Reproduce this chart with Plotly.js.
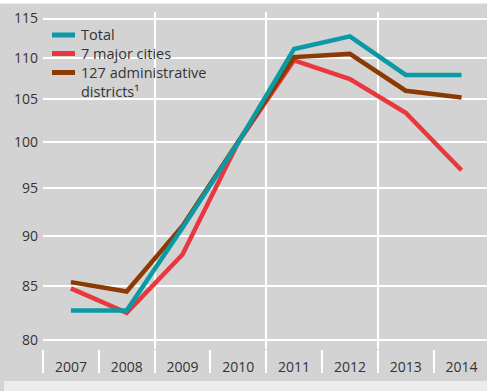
<!DOCTYPE html>
<html>
<head>
<meta charset="utf-8">
<script src="https://cdn.plot.ly/plotly-3.0.1.min.js"></script>
<style>html,body{margin:0;padding:0;background:#d3d3d3;}#chart{width:487px;height:391px;}</style>
</head>
<body>
<div id="chart"></div>
<script>
const years = [2007, 2008, 2009, 2010, 2011, 2012, 2013, 2014];
const yearLabels = ['2007', '2008', '2009', '2010', '2011', '2012', '2013', '2014'];
const total = [82.7, 82.7, 90.8, 100, 111.1, 112.7, 107.9, 107.9];
const majorCities = [84.8, 82.5, 88.1, 100, 109.7, 107.4, 103.4, 96.9];
const adminDistricts = [85.4, 84.5, 91.0, 100, 110.1, 110.5, 106.0, 105.2];
const yTickVals = [80, 85, 90, 95, 100, 105, 110, 115];
const yTickText = ['80', '85', '90', '95', '100', '105', '110', '115'];
const seriesNames = ['Total', '7 major cities', '127 administrative<br>districts¹'];
const seriesColors = ['#0a9aa5', '#e8373f', '#8a3a02'];

const boundaries = years.map(y => y - 0.5);
const gridBoundaries = boundaries.filter((b, i) => i % 2 === 0 && i > 0);

const BG = '#d3d3d3';
const TXT = '#333333';
const FONT = 'Open Sans, DejaVu Sans, sans-serif';

const traces = [
  {x: years, y: majorCities, name: '7 major cities', mode: 'lines',
   line: {color: seriesColors[1], width: 4.5}},
  {x: years, y: adminDistricts, name: '127 administrative districts¹', mode: 'lines',
   line: {color: seriesColors[2], width: 4.5}},
  {x: years, y: total, name: 'Total', mode: 'lines',
   line: {color: seriesColors[0], width: 4.5}}
];

// manual legend (plot-area pixel helpers)
const px2x = px => (px - 43) / 444;
const px2y = py => (349 - py) / 337;
const legendRows = [35, 53.5, 72.5];
const legendTextRows = [34.5, 54, 82];
const legendShapes = [
  {type: 'rect', xref: 'paper', yref: 'paper', x0: px2x(47), x1: px2x(215),
   y0: px2y(26), y1: px2y(96), fillcolor: BG, line: {width: 0}, layer: 'between'}
];
legendRows.forEach((r, i) => legendShapes.push(
  {type: 'line', xref: 'paper', yref: 'paper', x0: px2x(52), x1: px2x(75),
   y0: px2y(r), y1: px2y(r), line: {color: seriesColors[i], width: 5}, layer: 'above'}));
const legendAnnotations = seriesNames.map((t, i) => ({
  xref: 'paper', yref: 'paper', x: px2x(80), y: px2y(legendTextRows[i]),
  xanchor: 'left', yanchor: 'middle', align: 'left', text: t, showarrow: false,
  borderpad: 0, font: {family: FONT, size: 14.5, color: TXT}
}));

const layout = {
  width: 487, height: 391,
  margin: {l: 43, r: 0, t: 12, b: 42},
  paper_bgcolor: BG, plot_bgcolor: BG,
  font: {family: FONT, size: 14, color: TXT},
  showlegend: false,
  xaxis: {type: 'linear', range: [2006.5, 2006.5 + 444 / 55.8],
          tickmode: 'array', tickvals: years, ticktext: yearLabels,
          ticks: '', showgrid: false, zeroline: false, showline: false,
          ticklabelstandoff: 8,
          tickfont: {family: FONT, size: 14, color: TXT},
          minor: {tickvals: boundaries, ticks: 'outside', ticklen: 23, tickwidth: 2,
                  tickcolor: '#ffffff', showgrid: false}},
  xaxis2: {type: 'linear', overlaying: 'x', matches: 'x', side: 'bottom',
           range: [2006.5, 2006.5 + 444 / 55.8],
           tickmode: 'array', tickvals: gridBoundaries, showticklabels: false,
           ticks: '', showgrid: true, gridcolor: '#ffffff', gridwidth: 2,
           zeroline: false, showline: false},
  yaxis: {type: 'log', range: [Math.log10(79.19), Math.log10(115.85)],
          tickmode: 'array', tickvals: yTickVals, ticktext: yTickText,
          ticks: '', showgrid: true, gridcolor: '#ffffff', gridwidth: 2,
          zeroline: false, showline: false, ticklabelstandoff: 4,
          tickfont: {family: FONT, size: 14, color: TXT}},
  annotations: legendAnnotations,
  shapes: [
    {type: 'rect', xref: 'paper', yref: 'paper', x0: -0.2, x1: 1.1,
     y0: 1.0252, y1: 1.1, fillcolor: '#ffffff', line: {width: 0}, layer: 'below'},
    {type: 'rect', xref: 'paper', yref: 'paper', x0: -0.0878, x1: 1.1,
     y0: -0.095, y1: -0.2, fillcolor: '#ececec', line: {width: 0}, layer: 'below'}
  ].concat(legendShapes)
};

traces.push({x: [2006.5], y: [100], xaxis: 'x2', mode: 'none', showlegend: false, hoverinfo: 'skip'});

Plotly.newPlot('chart', traces, layout, {staticPlot: true, displayModeBar: false});
</script>
</body>
</html>
